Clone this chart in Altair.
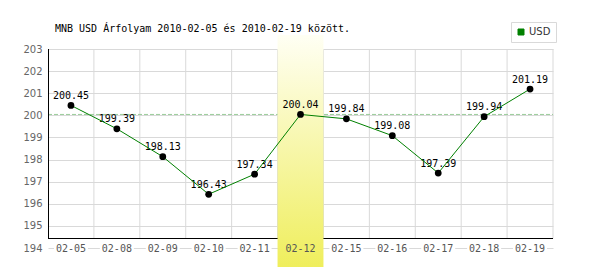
import altair as alt
import pandas as pd

# ---- data ----
dates = ["02-05", "02-08", "02-09", "02-10", "02-11", "02-12",
         "02-15", "02-16", "02-17", "02-18", "02-19"]
rates = [200.45, 199.39, 198.13, 196.43, 197.34, 200.04,
         199.84, 199.08, 197.39, 199.94, 201.19]
series_name = "USD"
highlight_date = "02-12"
reference_rate = 200.04
y_ticks = [194, 195, 196, 197, 198, 199, 200, 201, 202, 203]
title_text = "MNB USD Árfolyam 2010-02-05 és 2010-02-19 között."

df = pd.DataFrame({
    "date": dates,
    "rate": rates,
    "label": [f"{v:.2f}" for v in rates],
    "series": [series_name] * len(dates),
})
hl = pd.DataFrame({"date": [highlight_date]})
ref = pd.DataFrame({"rate": [reference_rate]})

W, H = 505, 199
GRID = "#d9d9d9"

xscale = alt.Scale(type="band", domain=dates, paddingInner=0, paddingOuter=0)
yscale = alt.Scale(domain=[y_ticks[0], y_ticks[-1]], nice=False, zero=False)
yaxis = alt.Axis(values=y_ticks, grid=True, gridColor=GRID, domain=False, ticks=False,
                 labelColor="#666666", labelFont="DejaVu Sans", labelFontSize=10,
                 labelPadding=6, title=None)


def X(**kw):
    return alt.X("date:N", scale=xscale, axis=None, **kw)


def Y():
    return alt.Y("rate:Q", scale=yscale, axis=yaxis)


base = alt.Chart(df)

vgrid = base.mark_rule(color=GRID, strokeWidth=1).encode(
    x=X(bandPosition=1), y=alt.value(0), y2=alt.value(189.5))

refline = alt.Chart(ref).mark_rule(color="#99cc99", strokeDash=[4, 2]).encode(
    y=Y(), x=alt.value(0), x2=alt.value(W))

xaxis_line = alt.Chart(ref).mark_rule(color="black").encode(
    x=alt.value(0), x2=alt.value(W), y=alt.value(189.5))
yaxis_line = alt.Chart(ref).mark_rule(color="black").encode(
    x=alt.value(0.5), y=alt.value(0), y2=alt.value(190))

label_bg = base.mark_bar(color="white", width=34).encode(
    x=X(), y=alt.value(194), y2=alt.value(204))

band = alt.Chart(hl).mark_rect(
    color=alt.Gradient(
        gradient="linear",
        stops=[alt.GradientStop(color="#fffff4", offset=0),
               alt.GradientStop(color="#efee5c", offset=1)],
        x1=0, x2=0, y1=0, y2=1,
    )
).encode(x=X(), y=alt.value(-14), y2=alt.value(218))

xlabels = base.mark_text(font="DejaVu Sans Mono", fontSize=10, color="#555555",
                         baseline="middle").encode(
    x=X(), y=alt.value(199.5), text="date:N")

vlabels = base.mark_text(font="DejaVu Sans Mono", fontSize=10, color="black",
                         baseline="alphabetic", dy=-6.5).encode(
    x=X(), y=Y(), text="label:N")

line = base.mark_line(strokeWidth=1).encode(
    x=X(), y=Y(),
    color=alt.Color("series:N",
                    scale=alt.Scale(domain=[series_name], range=["#008000"]),
                    legend=alt.Legend(
                        title=None, orient="none", legendX=463, legendY=-27,
                        symbolType="square", symbolSize=36,
                        symbolFillColor="#008000", symbolStrokeColor="#004400",
                        symbolStrokeWidth=1,
                        strokeColor=GRID, fillColor="white", padding=5,
                        labelFont="DejaVu Sans", labelFontSize=10,
                        labelColor="#333333", labelOffset=3,
                    )))

points = base.mark_circle(size=46, color="black", opacity=1).encode(x=X(), y=Y())

chart = alt.layer(
    vgrid, refline, xaxis_line, yaxis_line, label_bg, band,
    xlabels, vlabels, line, points,
).properties(
    width=W, height=H,
    title=alt.TitleParams(text=title_text, anchor="start", font="DejaVu Sans Mono",
                          fontSize=10, fontWeight="normal", color="black",
                          dx=7, dy=16, frame="group"),
    autosize=alt.AutoSizeParams(type="none"),
    padding={"left": 48, "top": 49, "right": 47, "bottom": 22},
    background="white",
).configure_view(stroke=None)

chart.save("out.html", embed_options={"renderer": "svg", "actions": False})
